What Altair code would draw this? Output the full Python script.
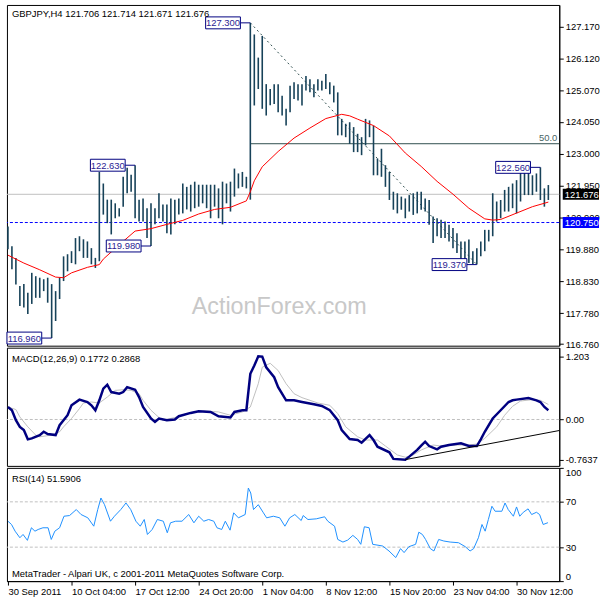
import altair as alt
import pandas as pd

FONT = "Liberation Sans"
FS = 9.5

symbol_title = "GBPJPY,H4  121.706 121.714 121.671 121.676"
macd_title = "MACD(12,26,9) 0.1772 0.2868"
rsi_title = "RSI(14) 51.5906"
footer = "MetaTrader - Alpari UK, c 2001-2011 MetaQuotes Software Corp."
watermark = "ActionForex.com"

bar_high = [
    120.62, 119.97, 119.59, 118.67, 118.73, 118.45, 119.10, 118.99, 118.94, 118.89,
    118.94, 118.73, 118.50, 118.94, 119.64, 119.71, 119.81, 120.24, 120.30, 120.20,
    120.13, 119.91, 119.59, 122.41, 122.03, 121.50, 121.50, 121.38, 121.22, 122.25,
    122.55, 122.32, 122.63, 121.50, 121.54, 121.22, 121.38, 121.22, 121.71, 121.34,
    121.34, 121.54, 121.50, 121.54, 122.03, 121.92, 121.99, 122.09, 121.99, 121.99,
    121.99, 121.99, 121.99, 121.87, 122.09, 122.03, 122.09, 122.52, 122.36, 122.41,
    122.25, 127.30, 126.92, 126.16, 126.87, 125.29, 125.13, 125.29, 125.29, 124.91,
    124.48, 125.24, 125.35, 125.29, 125.29, 125.56, 125.45, 125.29, 125.45, 125.40,
    125.62, 125.35, 125.24, 125.02, 124.15, 123.99, 124.04, 123.88, 123.66, 123.55,
    124.15, 124.10, 123.93, 122.85, 123.17, 122.63, 122.41, 121.76, 121.71, 121.60,
    121.54, 121.65, 121.71, 121.76, 121.76, 121.54, 121.49, 120.95, 120.89, 120.84,
    120.78, 120.68, 120.57, 120.40, 120.13, 120.13, 120.19, 119.81, 119.91, 120.13,
    120.51, 120.51, 121.71, 121.44, 121.49, 121.82, 121.92, 122.03, 122.14, 122.50,
    122.41, 122.41, 122.30, 122.36, 122.56, 121.87, 121.98]
bar_low = [
    119.87, 119.22, 118.72, 118.01, 117.96, 117.75, 118.08, 118.28, 118.28, 118.50,
    118.12, 116.96, 117.52, 118.24, 118.83, 119.15, 119.42, 119.38, 119.81, 119.59,
    119.59, 119.38, 119.26, 119.48, 121.01, 120.73, 120.36, 120.89, 120.95, 121.27,
    121.71, 121.76, 120.89, 120.78, 120.78, 120.24, 119.98, 120.69, 120.89, 120.78,
    120.40, 120.36, 120.69, 121.01, 121.05, 121.18, 121.11, 121.22, 121.27, 121.38,
    121.22, 120.89, 121.27, 120.89, 120.69, 121.38, 121.11, 121.60, 121.87, 121.92,
    121.87, 121.50, 124.59, 125.13, 124.48, 124.26, 124.60, 124.64, 124.37, 124.26,
    123.93, 124.37, 124.80, 124.75, 124.59, 125.08, 125.02, 124.86, 125.08, 125.08,
    125.13, 124.96, 124.69, 123.61, 123.61, 123.55, 123.33, 123.06, 123.06, 122.96,
    123.28, 123.55, 122.30, 122.30, 122.25, 121.92, 121.49, 121.17, 121.05, 121.17,
    120.89, 121.11, 121.00, 121.05, 121.17, 121.11, 120.68, 120.08, 120.30, 120.24,
    120.24, 120.13, 119.91, 119.75, 119.54, 119.48, 119.42, 119.39, 119.37, 119.64,
    119.81, 120.13, 120.30, 120.78, 120.89, 121.11, 121.11, 121.22, 121.05, 121.44,
    121.65, 121.65, 121.65, 121.76, 121.49, 121.27, 121.49]

ma_idx = [0, 4, 8, 12, 14, 16, 20, 23, 24, 28, 32, 36, 40, 44, 48, 52, 56, 60, 61, 62,
          64, 68, 72, 76, 80, 84, 86, 88, 92, 96, 100, 104, 108, 112, 116, 120, 122,
          124, 128, 132, 136]
ma_val = [119.68, 119.42, 119.20, 118.96, 118.94, 119.10, 119.28, 119.37, 119.55, 120.02,
          120.47, 120.55, 120.69, 120.82, 121.03, 121.18, 121.25, 121.46, 121.76, 122.12,
          122.58, 123.08, 123.52, 123.85, 124.16, 124.30, 124.25, 124.14, 123.93, 123.59,
          123.03, 122.59, 122.10, 121.68, 121.22, 120.87, 120.83, 120.85, 121.06, 121.27,
          121.42]

macd_idx = [0, 1, 2, 3, 4, 5, 6, 8, 9, 10, 12, 13, 15, 16, 18, 20, 21, 22, 23, 24,
            25, 26, 28, 29, 30, 32, 33, 34, 36, 37, 38, 40, 42, 43, 46, 48, 51, 53, 56, 57,
            59, 60, 61, 62, 63, 64, 65, 67, 68, 70, 72, 74, 77, 79, 81, 83, 84, 86, 88, 89,
            91, 92, 93, 96, 97, 100, 101, 103, 104, 105, 106, 108, 109, 111, 114, 116, 118, 119, 120, 122,
            124, 126, 127, 128, 131, 133, 134, 135, 136]
macd_val = [0.238, 0.176, -0.013, -0.140, -0.202, -0.378, -0.359, -0.297, -0.234, -0.278,
            -0.297, -0.108, 0.081, 0.270, 0.378, 0.333, 0.270, 0.176, 0.365, 0.586,
            0.662, 0.522, 0.491, 0.522, 0.616, 0.567, 0.427, 0.238, 0.019, -0.045,
            0.019, -0.013, 0.0, 0.062, 0.125, 0.157, 0.144, 0.062, 0.038, 0.144,
            0.176, 0.176, 0.870, 1.026, 1.203, 1.197, 0.994, 0.805, 0.616, 0.365,
            0.365, 0.333, 0.289, 0.257, 0.176, -0.013, -0.202, -0.372, -0.391, -0.442,
            -0.297, -0.391, -0.518, -0.624, -0.750, -0.7637, -0.707, -0.580, -0.499, -0.423,
            -0.505, -0.567, -0.518, -0.486, -0.454, -0.505, -0.505, -0.378, -0.234, 0.019,
            0.176, 0.333, 0.365, 0.378, 0.408, 0.365, 0.333, 0.238, 0.177]

sig_idx = [0, 2, 3, 5, 7, 8, 11, 13, 14, 16, 18, 19, 21, 23, 25, 27, 29, 31, 33, 34,
           36, 38, 39, 42, 45, 49, 53, 56, 59, 61, 63, 64, 66, 68, 70, 72, 74, 78, 81, 83,
           85, 88, 90, 93, 95, 98, 100, 102, 104, 107, 109, 113, 116, 118, 120, 123, 125, 127, 129, 132,
           134, 136]
sig_val = [0.238, 0.189, 0.049, -0.140, -0.297, -0.329, -0.297, -0.234, -0.140, 0.019,
           0.208, 0.314, 0.333, 0.314, 0.427, 0.554, 0.567, 0.554, 0.491, 0.365,
           0.176, 0.038, -0.013, 0.038, 0.113, 0.163, 0.144, 0.081, 0.144, 0.238,
           0.681, 0.994, 1.070, 0.932, 0.681, 0.491, 0.416, 0.314, 0.270, 0.113,
           -0.140, -0.329, -0.391, -0.391, -0.505, -0.675, -0.718, -0.675, -0.580, -0.486,
           -0.505, -0.486, -0.486, -0.467, -0.359, -0.140, 0.081, 0.251, 0.352, 0.378,
           0.365, 0.2868]

rsi_idx = [0, 0.9, 1.8, 3, 3.8, 4.9, 5.9, 6.8, 7.6, 8.8,
           10.1, 10.9, 11.8, 13, 14.1, 15.5, 17.2, 18.4, 20.1, 21.6,
           22.6, 23.4, 24.3, 25.8, 26.8, 28.4, 29.7, 30.9, 32.2, 33.3,
           34.3, 35.1, 36.3, 37.6, 39.1, 40.1, 40.9, 42.2, 43.8, 45.5,
           46.8, 48, 49.3, 50.5, 51.8, 52.6, 53.8, 54.7, 55.9, 56.8,
           58, 59.7, 60.5, 61.1, 61.8, 63, 64.3, 65.1, 66.8, 68.4,
           69.7, 70.9, 72.2, 73.8, 74.3, 75.5, 77.6, 79.7, 80.5, 82.2,
           83, 84.3, 85.5, 86.8, 88, 88.8, 89.7, 90.9, 91.8, 94.3,
           95.9, 97.6, 98.8, 99.7, 100.9, 102.6, 103.4, 104.3, 105.1, 106.3,
           107.2, 108.4, 109.7, 111.3, 113.4, 115.1, 116.3, 117.2, 118.4, 119.3,
           120.1, 120.9, 121.8, 122.6, 124.3, 125.1, 125.9, 127.2, 128, 128.8,
           129.7, 130.9, 131.8, 133, 133.8, 134.7, 135.9]
rsi_val = [52.9, 50.0, 44.1, 38.3, 41.2, 36.0, 47.1, 44.1, 45.6, 47.1,
           47.1, 36.8, 44.1, 47.1, 57.3, 57.9, 63.2, 58.8, 55.9, 48.5,
           63.2, 73.4, 67.5, 52.9, 57.3, 63.2, 69.0, 63.2, 52.9, 48.5,
           54.4, 41.2, 45.6, 54.4, 52.9, 42.7, 51.5, 52.9, 52.9, 58.8,
           51.5, 57.3, 52.9, 54.4, 52.9, 47.1, 45.6, 52.9, 45.0, 60.3,
           55.9, 58.8, 82.2, 77.8, 63.2, 67.5, 60.3, 55.9, 57.3, 55.9,
           48.5, 55.9, 58.8, 53.5, 57.9, 54.4, 55.0, 56.8, 52.9, 48.5,
           36.8, 34.5, 36.2, 40.4, 36.8, 32.5, 48.0, 47.1, 32.5, 31.0,
           26.6, 20.8, 28.7, 25.2, 30.4, 32.5, 43.2, 41.2, 36.8, 28.7,
           26.6, 36.8, 35.4, 34.5, 33.9, 30.4, 26.6, 28.7, 38.3, 50.0,
           44.1, 54.4, 66.1, 61.7, 61.7, 69.0, 63.2, 57.3, 65.5, 57.3,
           60.8, 63.8, 58.8, 60.8, 58.8, 50.0, 51.6]

price_ticks = [116.76, 117.78, 118.83, 119.88, 120.90, 121.95, 123.00, 124.05, 125.07, 126.12, 127.17]
macd_ticks = [1.203, 0.0, -0.7637]
rsi_ticks = [0, 30, 70, 100]
rsi_levels = [30, 70]
time_tick_idx = [0, 16, 32, 48, 64, 80, 96, 112, 128]
time_tick_labels = ["30 Sep 2011", "10 Oct 04:00", "17 Oct 12:00", "24 Oct 20:00", "1 Nov 04:00",
                    "8 Nov 12:00", "15 Nov 20:00", "23 Nov 04:00", "30 Nov 12:00"]

peak_idx = [61, 32, 36, 11, 118, 134]
peak_price = [127.30, 122.63, 119.98, 116.96, 119.37, 122.56]
fibo_high = [61, 127.30]
fibo_low = [118, 119.37]
fibo_label = "50.0"
support_level = 120.750
last_price = 121.676
trend_idx = [100, 138.75]
trend_val = [-0.7637, -0.21]

# ---------------- layout / style ----------------
W = 556
MAIN_H, MACD_H, RSI_H = 343, 119, 114
X_DOMAIN = [-0.25, 138.75]
BAR_C = "#174259"
NAVY = "#000080"
SLATE = "#2f4f4f"

xs = alt.Scale(domain=X_DOMAIN, nice=False, zero=False)
ys_main = alt.Scale(domain=[116.71, 127.887], nice=False, zero=False)
ys_macd = alt.Scale(domain=[-0.883, 1.367], nice=False, zero=False)
ys_rsi = alt.Scale(domain=[0, 100], nice=False, zero=False)

ax_main = alt.Axis(orient="right", values=price_ticks, format=".3f", title=None,
                   tickSize=4, labelPadding=2, grid=False)
ax_macd = alt.Axis(orient="right", values=macd_ticks, title=None, tickSize=4, labelPadding=2,
                   grid=False, labelExpr="datum.value == 0 ? '0.00' : toString(datum.value)")
ax_rsi = alt.Axis(orient="right", values=rsi_ticks, title=None, tickSize=4, labelPadding=2,
                  grid=False, labelFlush=True)


def X(field="i"):
    return alt.X(f"{field}:Q", scale=xs, axis=None)


def YM(field):
    return alt.Y(f"{field}:Q", scale=ys_main, axis=ax_main)


def YD(field):
    return alt.Y(f"{field}:Q", scale=ys_macd, axis=ax_macd)


def YR(field):
    return alt.Y(f"{field}:Q", scale=ys_rsi, axis=ax_rsi)


def text_layer(s, x, y, size=FS, color="black", align="left"):
    return alt.Chart(pd.DataFrame({"t": [s]})).mark_text(
        font=FONT, fontSize=size, color=color, align=align, baseline="alphabetic"
    ).encode(text="t:N", x=alt.value(x), y=alt.value(y))


# ---------------- main panel ----------------
bars_df = pd.DataFrame({"i": list(range(len(bar_high))), "high": bar_high, "low": bar_low})
ma_df = pd.DataFrame({"i": ma_idx, "v": ma_val})
peaks_df = pd.DataFrame({"i": peak_idx, "p": peak_price})
fib_mid = (fibo_high[1] + fibo_low[1]) / 2
fib_df = pd.DataFrame({"i": [fibo_high[0]], "i2": [X_DOMAIN[1]], "p": [fib_mid], "t": [fibo_label]})
diag_df = pd.DataFrame({"i": [fibo_high[0]], "p": [fibo_high[1]], "i2": [fibo_low[0]], "p2": [fibo_low[1]]})
right_df = pd.DataFrame({"p": [last_price, support_level], "bg": ["#000000", "#0000ff"]})

wm = text_layer(watermark, 186, 310.7, size=23.5, color="#c8c8c8")

bars = alt.Chart(bars_df).mark_rule(color=BAR_C, strokeWidth=1.6).encode(
    x=X(), y=YM("low"), y2="high:Q")
ma = alt.Chart(ma_df).mark_line(color="#ff0000", strokeWidth=1).encode(x=X(), y=YM("v"))
last_line = alt.Chart(pd.DataFrame({"p": [last_price]})).mark_rule(
    color="#c0c0c0", strokeWidth=1).encode(y=YM("p"))
sup_line = alt.Chart(pd.DataFrame({"p": [support_level]})).mark_rule(
    color="#0000ff", strokeWidth=1, strokeDash=[3, 2]).encode(y=YM("p"))
fib_line = alt.Chart(fib_df).mark_rule(color=SLATE, strokeWidth=1).encode(
    x=X(), x2="i2:Q", y=YM("p"))
fib_text = alt.Chart(fib_df).mark_text(font=FONT, fontSize=FS, color="#4a6464", align="right",
                                       baseline="alphabetic", dy=-3).encode(
    text="t:N", x=alt.value(W - 2), y=YM("p"))
diag = alt.Chart(diag_df).mark_rule(color=SLATE, strokeWidth=1, strokeDash=[2, 3]).encode(
    x=X(), y=YM("p"), x2="i2:Q", y2="p2:Q")
pk_box = alt.Chart(peaks_df).mark_rect(fill="white", stroke=NAVY, strokeWidth=1,
                                       xOffset=-45, x2Offset=-10, yOffset=-6, y2Offset=6).encode(
    x=X(), x2="i:Q", y=YM("p"), y2="p:Q")
pk_con = alt.Chart(peaks_df).mark_rule(color=NAVY, strokeWidth=1, xOffset=-10).encode(
    x=X(), x2="i:Q", y=YM("p"))
pk_txt = alt.Chart(peaks_df).mark_text(font=FONT, fontSize=FS, color="#2a1d93", align="center",
                                       baseline="middle", dx=-27.5, dy=0.5).encode(
    x=X(), y=YM("p"), text=alt.Text("p:Q", format=".3f"))
r_box = alt.Chart(right_df).mark_rect(yOffset=-5.5, y2Offset=5.5).encode(
    x=alt.value(W + 3.5), x2=alt.value(W + 40),
    y=YM("p"), y2="p:Q",
    color=alt.Color("bg:N", scale=None))
r_txt = alt.Chart(right_df).mark_text(font=FONT, fontSize=FS, color="white", align="left",
                                      baseline="middle", dy=0.5).encode(
    x=alt.value(W + 5.5), y=YM("p"),
    text=alt.Text("p:Q", format=".3f"))
main_title = text_layer(symbol_title, 5, 12)

main = alt.layer(wm, last_line, sup_line, fib_line, fib_text, diag, bars, ma,
                 pk_con, pk_box, pk_txt, r_box, r_txt, main_title).properties(width=W, height=MAIN_H)

# ---------------- MACD panel ----------------
macd_df = pd.DataFrame({"i": macd_idx, "v": macd_val})
sig_df = pd.DataFrame({"i": sig_idx, "v": sig_val})
trend_df = pd.DataFrame({"i": [trend_idx[0]], "i2": [trend_idx[1]], "v": [trend_val[0]], "v2": [trend_val[1]]})

zero = alt.Chart(pd.DataFrame({"v": [0.0]})).mark_rule(color="#c0c0c0", strokeDash=[3, 2]).encode(
    y=YD("v"))
sig = alt.Chart(sig_df).mark_line(color="#c0c0c0", strokeWidth=1).encode(x=X(), y=YD("v"))
macd_line = alt.Chart(macd_df).mark_line(color=NAVY, strokeWidth=2.5).encode(x=X(), y=YD("v"))
trend = alt.Chart(trend_df).mark_rule(color="black", strokeWidth=1).encode(
    x=X(), x2="i2:Q", y=YD("v"), y2="v2:Q")
macd_t = text_layer(macd_title, 5, 14.7)
macd_panel = alt.layer(zero, sig, macd_line, trend, macd_t).properties(width=W, height=MACD_H)

# ---------------- RSI panel ----------------
rsi_df = pd.DataFrame({"i": rsi_idx, "v": rsi_val})
lvl_df = pd.DataFrame({"v": rsi_levels})
label_arr = "[" + ",".join("'" + s + "'" for s in time_tick_labels) + "]"
step = time_tick_idx[1] - time_tick_idx[0]
x_time = alt.X("i:Q", scale=xs,
               axis=alt.Axis(values=time_tick_idx, title=None, tickSize=4, labelPadding=1,
                             labelAlign="left", labelFlush=False, grid=False, labelOverlap=False,
                             labelExpr=f"{label_arr}[round(datum.value / {step})]"))

lvls = alt.Chart(lvl_df).mark_rule(color="#c0c0c0", strokeDash=[3, 2]).encode(y=YR("v"))
rsi_line = alt.Chart(rsi_df).mark_line(color="#1e90ff", strokeWidth=1).encode(x=x_time, y=YR("v"))
rsi_t = text_layer(rsi_title, 5, 14)
foot_t = text_layer(footer, 5, 110.3)
rsi_panel = alt.layer(lvls, rsi_line, rsi_t, foot_t).properties(width=W, height=RSI_H)

chart = alt.vconcat(main, macd_panel, rsi_panel, spacing=2, bounds="flush").configure(
    padding={"left": 2, "top": 2, "right": 0, "bottom": 0}
).configure_view(stroke="black", strokeWidth=1).configure_axis(
    labelFont=FONT, labelFontSize=FS, labelColor="black", tickColor="black",
    domainColor="black", domainWidth=1, tickWidth=1
)

chart.save("out.html", embed_options={"renderer": "svg", "actions": False})
